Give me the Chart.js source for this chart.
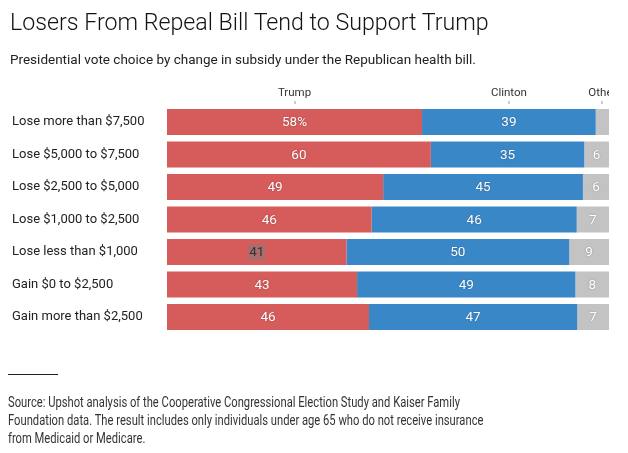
<!DOCTYPE html>
<html>
<head>
<meta charset="utf-8">
<script src="https://cdn.jsdelivr.net/npm/chart.js@4/dist/chart.umd.min.js"></script>
<style>
  html, body { margin: 0; padding: 0; background: #fff; }
  #wrap { position: relative; width: 628px; height: 453px; overflow: hidden; }
  canvas { position: absolute; left: 0; top: 0; }
  .t { position: absolute; white-space: nowrap; color: #121212; }
  #title { left: 10px; top: 8px; font: 300 23.2px Roboto, "Open Sans", sans-serif; }
  #sub { left: 10px; top: 51px; font: 400 13.5px Roboto, "Noto Sans", sans-serif; color: #222; }
  #rule { position: absolute; left: 8px; top: 374px; width: 50px; height: 1px; background: #222; }
  #src { left: 8px; top: 393px; font: 400 14px Roboto, sans-serif; color: #333; line-height: 18px; transform: scaleX(0.8); transform-origin: 0 0; }
</style>
</head>
<body>
<div id="wrap">
  <canvas id="c" width="628" height="453"></canvas>
  <div class="t" id="title">Losers From Repeal Bill Tend to Support Trump</div>
  <div class="t" id="sub">Presidential vote choice by change in subsidy under the Republican health bill.</div>
  <div id="rule"></div>
  <div class="t" id="src">Source: Upshot analysis of the Cooperative Congressional Election Study and Kaiser Family<br>Foundation data. The result includes only individuals under age 65 who do not receive insurance<br>from Medicaid or Medicare.</div>
</div>
<script>
const categories = [
  'Lose more than $7,500',
  'Lose $5,000 to $7,500',
  'Lose $2,500 to $5,000',
  'Lose $1,000 to $2,500',
  'Lose less than $1,000',
  'Gain $0 to $2,500',
  'Gain more than $2,500'
];
const seriesNames = ['Trump', 'Clinton', 'Other'];
const trump   = [57.7, 59.7, 48.9, 46.3, 40.6, 43.0, 45.7];
const clinton = [39.3, 34.7, 45.2, 46.4, 50.4, 49.4, 47.1];
const other   = [3.0, 5.6, 5.9, 7.3, 9.0, 7.6, 7.2];
const colors  = ['#d65c5b', '#3a87c8', '#c3c3c3'];

const labelPlugin = {
  id: 'segLabels',
  afterDatasetsDraw(chart) {
    const ctx = chart.ctx;
    const xs = chart.scales.x;
    ctx.save();
    ctx.font = '400 13.5px Roboto, "Noto Sans", sans-serif';
    ctx.textAlign = 'center';
    ctx.textBaseline = 'middle';
    chart.data.datasets.forEach((ds, di) => {
      const meta = chart.getDatasetMeta(di);
      meta.data.forEach((bar, i) => {
        const v = ds.data[i];
        const w = Math.abs(bar.x - bar.base);
        if (w < 18) return;
        const cx = (bar.x + bar.base) / 2;
        let txt = String(Math.round(v));
        if (i === 0 && di === 0) txt += '%';
        if (di === 0 && i === 4) {
          const tw = ctx.measureText(txt).width;
          ctx.fillStyle = 'rgba(125,125,125,0.5)';
          ctx.fillRect(cx - tw / 2 - 1, bar.y - 8, tw + 2, 16);
          ctx.fillStyle = '#333';
          ctx.fillText(txt, cx, bar.y + 1);
          return;
        }
        ctx.shadowColor = 'rgba(0,0,0,0.35)';
        ctx.shadowBlur = 1.5;
        ctx.fillStyle = '#fff';
        ctx.fillText(txt, cx, bar.y + 1);
        ctx.shadowColor = 'transparent';
        ctx.shadowBlur = 0;
      });
    });
    ctx.beginPath();
    ctx.rect(0, 0, 609, chart.height);
    ctx.clip();
    ctx.font = '400 11.5px Roboto, "Noto Sans", sans-serif';
    ctx.textBaseline = 'alphabetic';
    let cum = 0;
    chart.data.datasets.forEach((ds) => {
      const v = ds.data[0];
      const cx = xs.getPixelForValue(cum + v / 2);
      cum += v;
      ctx.fillStyle = '#333';
      ctx.fillText(ds.label, cx, 96);
      ctx.fillStyle = '#999';
      ctx.fillRect(Math.round(cx) - 0.5, 101, 1, 3);
    });
    ctx.restore();
  }
};

new Chart(document.getElementById('c'), {
  type: 'bar',
  data: {
    labels: categories,
    datasets: [
      { label: seriesNames[0], data: trump, backgroundColor: colors[0] },
      { label: seriesNames[1], data: clinton, backgroundColor: colors[1] },
      { label: seriesNames[2], data: other, backgroundColor: colors[2] }
    ]
  },
  options: {
    indexAxis: 'y',
    responsive: false,
    animation: false,
    events: [],
    layout: { padding: { left: 12, top: 105.75, bottom: 119.75, right: 19 } },
    datasets: { bar: { categoryPercentage: 1, barPercentage: 0.8, borderWidth: 0 } },
    plugins: { legend: { display: false }, tooltip: { enabled: false } },
    scales: {
      x: { stacked: true, min: 0, max: 100, display: false },
      y: {
        stacked: true,
        grid: { display: false },
        border: { display: false },
        ticks: {
          crossAlign: 'far',
          color: '#222',
          padding: 0,
          font: { family: 'Roboto, "Noto Sans", sans-serif', size: 13 }
        },
        afterFit(scale) { scale.width = 155; }
      }
    }
  },
  plugins: [labelPlugin]
});
</script>
</body>
</html>
